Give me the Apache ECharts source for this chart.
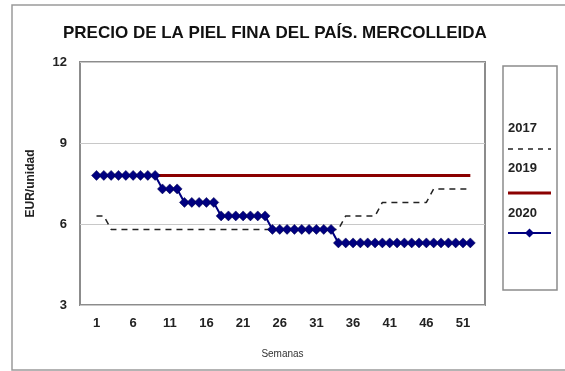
<!DOCTYPE html>
<html>
<head>
<meta charset="utf-8">
<script src="https://cdn.jsdelivr.net/npm/echarts@6/dist/echarts.min.js"></script>
<style>
  html, body { margin: 0; padding: 0; background: #fff; }
  #chart { width: 565px; height: 371px; }
</style>
</head>
<body>
<div id="chart"></div>
<script>
// Weekly price of fine domestic skin (EUR/unit), Mercolleida
const weeks = Array.from({ length: 52 }, (_, i) => i + 1);
const weekTicks = [1, 6, 11, 16, 21, 26, 31, 36, 41, 46, 51];

const price2017 = [
  6.3, 6.3, 5.8, 5.8, 5.8, 5.8, 5.8, 5.8, 5.8, 5.8,
  5.8, 5.8, 5.8, 5.8, 5.8, 5.8, 5.8, 5.8, 5.8, 5.8,
  5.8, 5.8, 5.8, 5.8, 5.8, 5.8, 5.8, 5.8, 5.8, 5.8,
  5.8, 5.8, 5.8, 5.8, 6.3, 6.3, 6.3, 6.3, 6.3, 6.8,
  6.8, 6.8, 6.8, 6.8, 6.8, 6.8, 7.3, 7.3, 7.3, 7.3,
  7.3, 7.3
];
const price2019 = [
  7.8, 7.8, 7.8, 7.8, 7.8, 7.8, 7.8, 7.8, 7.8, 7.8,
  7.8, 7.8, 7.8, 7.8, 7.8, 7.8, 7.8, 7.8, 7.8, 7.8,
  7.8, 7.8, 7.8, 7.8, 7.8, 7.8, 7.8, 7.8, 7.8, 7.8,
  7.8, 7.8, 7.8, 7.8, 7.8, 7.8, 7.8, 7.8, 7.8, 7.8,
  7.8, 7.8, 7.8, 7.8, 7.8, 7.8, 7.8, 7.8, 7.8, 7.8,
  7.8, 7.8
];
const price2020 = [
  7.8, 7.8, 7.8, 7.8, 7.8, 7.8, 7.8, 7.8, 7.8, 7.3,
  7.3, 7.3, 6.8, 6.8, 6.8, 6.8, 6.8, 6.3, 6.3, 6.3,
  6.3, 6.3, 6.3, 6.3, 5.8, 5.8, 5.8, 5.8, 5.8, 5.8,
  5.8, 5.8, 5.8, 5.3, 5.3, 5.3, 5.3, 5.3, 5.3, 5.3,
  5.3, 5.3, 5.3, 5.3, 5.3, 5.3, 5.3, 5.3, 5.3, 5.3,
  5.3, 5.3
];
const yTicks = [3, 6, 9, 12];

const pair = (vals) => weeks.map((w, i) => [w, vals[i]]);

const chart = echarts.init(document.getElementById('chart'));
const font = 'Liberation Sans, Arial, sans-serif';

chart.setOption({
  animation: false,
  backgroundColor: '#ffffff',
  title: {
    text: 'PRECIO DE LA PIEL FINA DEL PAÍS. MERCOLLEIDA',
    left: 58,
    top: 20,
    textStyle: { fontFamily: font, fontSize: 17, fontWeight: 'bold', color: '#111' }
  },
  grid: {
    left: 80, right: 80, top: 62, bottom: 66,
    show: true, borderColor: '#8c8c8c', borderWidth: 2, backgroundColor: '#fff'
  },
  xAxis: {
    type: 'value',
    min: -1.25,
    max: 54,
    name: 'Semanas',
    nameLocation: 'middle',
    nameGap: 44,
    nameTextStyle: { fontFamily: font, fontSize: 10, color: '#333' },
    axisLine: { show: false },
    axisTick: { show: false },
    splitLine: { show: false },
    axisLabel: {
      customValues: weekTicks,
      margin: 12,
      fontFamily: font, fontSize: 13, fontWeight: 'bold', color: '#222'
    }
  },
  yAxis: {
    type: 'value',
    min: 3, max: 12, interval: 3,
    name: 'EUR/unidad',
    nameLocation: 'middle',
    nameGap: 43,
    nameRotate: 90,
    nameTextStyle: { fontFamily: font, fontSize: 12, fontWeight: 'bold', color: '#222' },
    axisLine: { show: false },
    axisTick: { show: false },
    splitLine: { show: true, lineStyle: { color: '#c8c8c8', width: 1 } },
    axisLabel: {
      customValues: yTicks,
      margin: 13,
      fontFamily: font, fontSize: 13, fontWeight: 'bold', color: '#222'
    }
  },
  series: [
    {
      name: '2017', type: 'line', data: pair(price2017),
      showSymbol: false, symbol: 'none',
      lineStyle: { color: '#222', width: 1.5, type: [6, 5] },
      z: 2
    },
    {
      name: '2019', type: 'line', data: pair(price2019),
      showSymbol: false, symbol: 'none',
      lineStyle: { color: '#8b0000', width: 3 },
      z: 3
    },
    {
      name: '2020', type: 'line', data: pair(price2020),
      symbol: 'diamond', symbolSize: 10,
      itemStyle: { color: '#000080', borderColor: '#00004a', borderWidth: 0.5 },
      lineStyle: { color: '#000080', width: 2 },
      z: 4
    }
  ],
  graphic: [
    // outer chart frame
    { type: 'rect', shape: { x: 12, y: 5, width: 570, height: 365 },
      style: { fill: 'none', stroke: '#9a9a9a', lineWidth: 1.5 }, z: -10 },
    // legend box
    { type: 'rect', shape: { x: 503, y: 66, width: 54, height: 224 },
      style: { fill: '#fff', stroke: '#8c8c8c', lineWidth: 1.5 } },
    { type: 'text', style: { x: 508, y: 128, text: '2017', verticalAlign: 'middle',
      font: 'bold 13px Liberation Sans, Arial, sans-serif', fill: '#222' } },
    { type: 'line', shape: { x1: 508, y1: 149, x2: 551, y2: 149 },
      style: { stroke: '#222', lineWidth: 1.5, lineDash: [5, 5] } },
    { type: 'text', style: { x: 508, y: 168, text: '2019', verticalAlign: 'middle',
      font: 'bold 13px Liberation Sans, Arial, sans-serif', fill: '#222' } },
    { type: 'line', shape: { x1: 508, y1: 193, x2: 551, y2: 193 },
      style: { stroke: '#8b0000', lineWidth: 3 } },
    { type: 'text', style: { x: 508, y: 213, text: '2020', verticalAlign: 'middle',
      font: 'bold 13px Liberation Sans, Arial, sans-serif', fill: '#222' } },
    { type: 'line', shape: { x1: 508, y1: 233, x2: 551, y2: 233 },
      style: { stroke: '#000080', lineWidth: 2 } },
    { type: 'polygon', shape: { points: [[529.5, 228.5], [534, 233], [529.5, 237.5], [525, 233]] },
      style: { fill: '#000080' } }
  ]
});
</script>
</body>
</html>
